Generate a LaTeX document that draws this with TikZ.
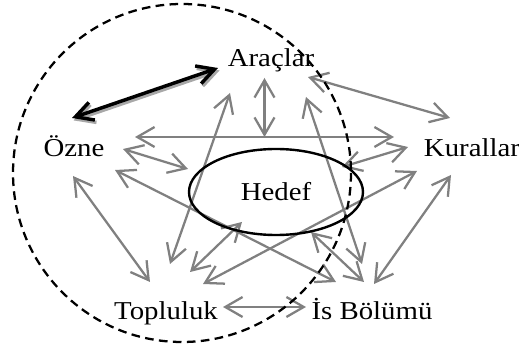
\documentclass[tikz,border=0pt]{standalone}
\usepackage{fontspec}
\setmainfont{Liberation Serif}[FakeStretch=1.12]
\usetikzlibrary{arrows.meta, shapes.geometric, backgrounds}
\definecolor{linkgray}{HTML}{808080}
\definecolor{shade}{HTML}{A8A8A8}
\tikzset{
  term/.style={font=\fontsize{19.3}{22}\selectfont, inner sep=2pt, anchor=base},
  goal/.style={
    ellipse, draw=black, line width=1.8pt,
    minimum width=130.5pt, minimum height=64.5pt, inner sep=0pt,
    font=\fontsize{19.3}{22}\selectfont
  },
  link/.style={<->, >={Straight Barb[length=13pt,width=15pt]},
               line width=1.7pt, draw=linkgray},
  bold/.style={<->, >={Straight Barb[length=13pt,width=14pt]},
               line width=2.6pt, draw=black},
  boldshade/.style={bold, draw=shade, transform canvas={shift={(1.2pt,-1.8pt)}}},
  ring/.style={dashed, dash pattern=on 6.5pt off 4pt, line width=1.7pt, draw=black},
}

\begin{document}
\begin{tikzpicture}[x=0.75pt, y=-0.75pt]
  \useasboundingbox (0,0) rectangle (519,349);

  \node[term] (araclar)  at (271,67)  {Araçlar};
  \node[term] (ozne)     at (74,157)  {Özne};
  \node[term] (kurallar) at (472,157) {Kurallar};
  \node[term] (topluluk) at (166,320) {Topluluk};
  \node[term] (isb)      at (372,320) {İs Bölümü};
  \node[goal] (hedef)    at (276,192) {Hedef};

  % gray links, kept under the ellipse and the ring
  \begin{scope}[on background layer]
    \draw[link] ([shift={(61,-20)}]ozne.base) -- ([shift={(-78,-20)}]kurallar.base)
      coordinate[pos=0.5] (mid);
    \draw[link] ([shift={(-6.5,11)}]araclar.base) -- (mid);
    \draw[link] ([shift={(37,10)}]araclar.base) -- ([shift={(-22,-39)}]kurallar.base);
    \draw[link] ([shift={(-64,-10)}]kurallar.base) -- ([shift={(66,-25)}]hedef.center);
    \draw[link] ([shift={(49,-8)}]ozne.base) -- ([shift={(-88,-23)}]hedef.center);
    \draw[link] ([shift={(41,13)}]ozne.base) -- ([shift={(-36,-38)}]isb.base);
    \draw[link] ([shift={(4,-56)}]topluluk.base) -- ([shift={(-41,26)}]araclar.base);
    \draw[link] ([shift={(-1,19)}]ozne.base) -- ([shift={(-16,-38)}]topluluk.base);
    \draw[link] ([shift={(24,-48)}]topluluk.base) -- ([shift={(-34,30)}]hedef.center);
    \draw[link] ([shift={(37,-36)}]topluluk.base) -- ([shift={(-55,14)}]kurallar.base);
    \draw[link] ([shift={(2,-36)}]isb.base) -- ([shift={(-21,18)}]kurallar.base);
    \draw[link] ([shift={(-10,-56)}]isb.base) -- ([shift={(35,30)}]araclar.base);
    \draw[link] ([shift={(-8,-38)}]isb.base) -- ([shift={(35,40)}]hedef.center);
    \draw[link] ([shift={(57,-13)}]topluluk.base) -- ([shift={(-66,-13)}]isb.base);
  \end{scope}

  % subject -- tools, with its shadow
  \draw[boldshade] ([shift={(-2,-39)}]ozne.base) -- ([shift={(-53,1)}]araclar.base);
  \draw[bold] ([shift={(-2,-39)}]ozne.base) -- ([shift={(-53,1)}]araclar.base);

  \draw[ring] (182,173) circle [radius=169];
\end{tikzpicture}
\end{document}
